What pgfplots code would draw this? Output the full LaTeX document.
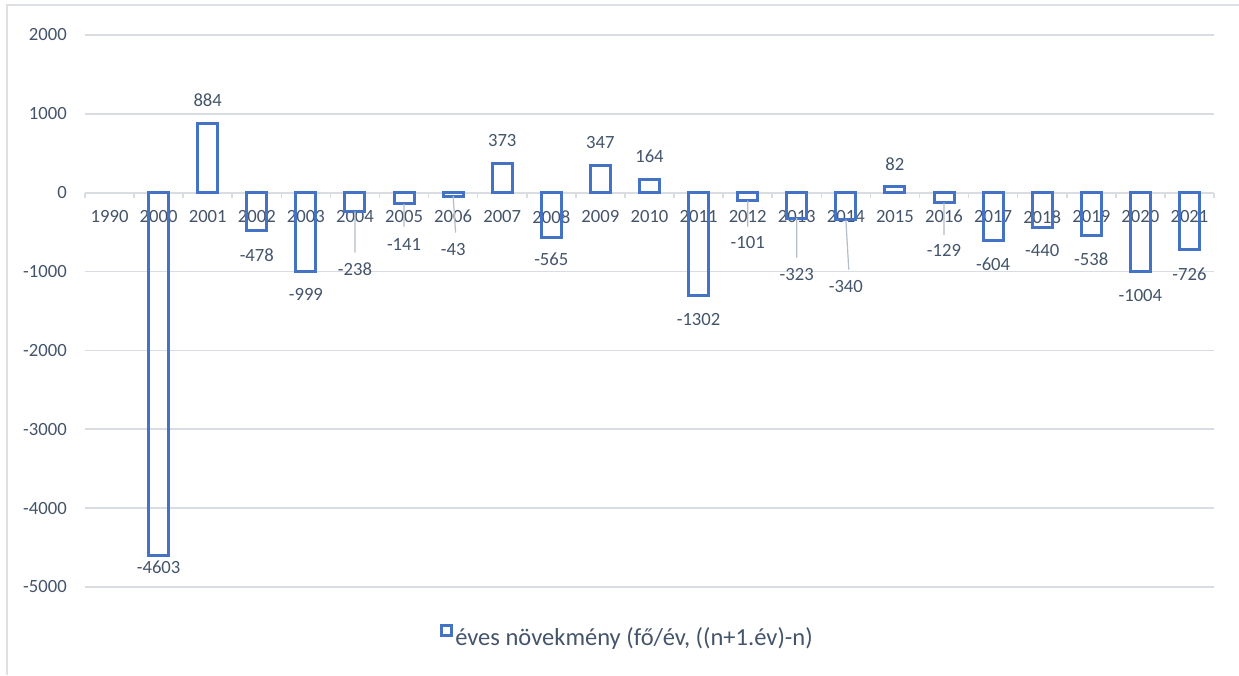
\documentclass[border=0pt]{standalone}
\usepackage{fontspec}
\setmainfont{Carlito}
\usepackage{pgfplots}
\usepackage{pgfplotstable}
\pgfplotsset{compat=1.18}
\definecolor{barblue}{HTML}{4472C4}
\definecolor{txt}{HTML}{44546A}
\definecolor{gridc}{HTML}{D9DDE3}
\definecolor{leader}{HTML}{B4BCC6}
\definecolor{framec}{HTML}{DDE1E6}
\pgfplotstableread{
x y lab
1 -4755 -4603
2 1179 884
3 -786 -478
4 -1293 -999
5 -976 -238
6 -659 -141
7 -723 -43
8 659 373
9 -850 -565
10 634 347
11 456 164
12 -1610 -1302
13 -634 -101
14 -1040 -323
15 -1192 -340
16 368 82
17 -735 -129
18 -905 -604
19 -735 -440
20 -837 -538
21 -1306 -1004
22 -1040 -726
}\labtable
\begin{document}
\begin{tikzpicture}
\begin{axis}[
  scale only axis, width=846.75pt, height=414pt,
  xmin=-0.5, xmax=22.5, ymin=-5000, ymax=2000,
  axis x line*=middle, axis y line*=left,
  hide obscured x ticks=false, hide obscured y ticks=false,
  y axis line style={draw=none},
  x axis line style={draw=none},
  xtick={0,...,22},
  xticklabels={1990,2000,2001,2002,2003,2004,2005,2006,2007,2008,2009,2010,2011,2012,2013,2014,2015,2016,2017,2018,2019,2020,2021},
  minor xtick={-0.5,0.5,...,22.5},
  major tick length=0pt, minor tick length=3.75pt, tick align=outside,
  minor tick style={gridc, line width=1.2pt},
  ytick style={draw=none},
  ytick={-5000,-4000,-3000,-2000,-1000,0,1000,2000},
  yticklabels={-5000,-4000,-3000,-2000,-1000,0,1000,2000},
  ymajorgrids, major grid style={gridc, line width=1.2pt},
  tick label style={font=\fontsize{14}{16}\selectfont, text=txt, inner sep=0pt},
  yticklabel style={anchor=east, xshift=-13.5pt},
  xticklabel style={anchor=center, yshift=-18pt},
  clip=false,
  legend style={at={(0.4805,-0.0906)}, anchor=center, draw=none, fill=none,
    font=\fontsize{18.4}{21}\selectfont, text=txt},
  legend image code/.code={\draw[barblue, line width=2.25pt, fill=white] (0pt,2pt) rectangle (7.5pt,9.5pt);},
]
\addplot[ybar, bar width=15pt, draw=barblue, line width=2.25pt, fill=none] coordinates {
(1,-4603)(2,884)(3,-478)(4,-999)(5,-238)(6,-141)(7,-43)(8,373)(9,-565)(10,347)(11,164)
(12,-1302)(13,-101)(14,-323)(15,-340)(16,82)(17,-129)(18,-604)(19,-440)(20,-538)(21,-1004)(22,-726)};
\addlegendentry{éves növekmény (fő/év, ((n+1.év)-n)}
\addplot[leader, line width=0.9pt, forget plot, unbounded coords=jump] coordinates {
(5,-238)(5,-761)(5,nan)
(6,-141)(6,-431)(6,nan)
(7,-43)(7.05,-507)(7,nan)
(13,-101)(13,-431)(13,nan)
(14,-323)(14,-824)(14,nan)
(15,-340)(15.06,-976)(15,nan)
(17,-129)(17,-533)};
\addplot[draw=none, mark=none, forget plot, nodes near coords, point meta=explicit symbolic,
  every node near coord/.append style={anchor=center, inner sep=0pt, text=txt, font=\fontsize{14}{16}\selectfont}]
  table[x=x, y=y, meta=lab] {\labtable};
\end{axis}
\draw[framec, line width=1.5pt] (-58.5pt,-66pt) -- (-58.5pt,436.5pt) -- (865.5pt,436.5pt);
\pgfresetboundingbox
\path[use as bounding box] (-63.75pt,-66pt) rectangle (865.5pt,440.25pt);
\end{tikzpicture}
\end{document}
